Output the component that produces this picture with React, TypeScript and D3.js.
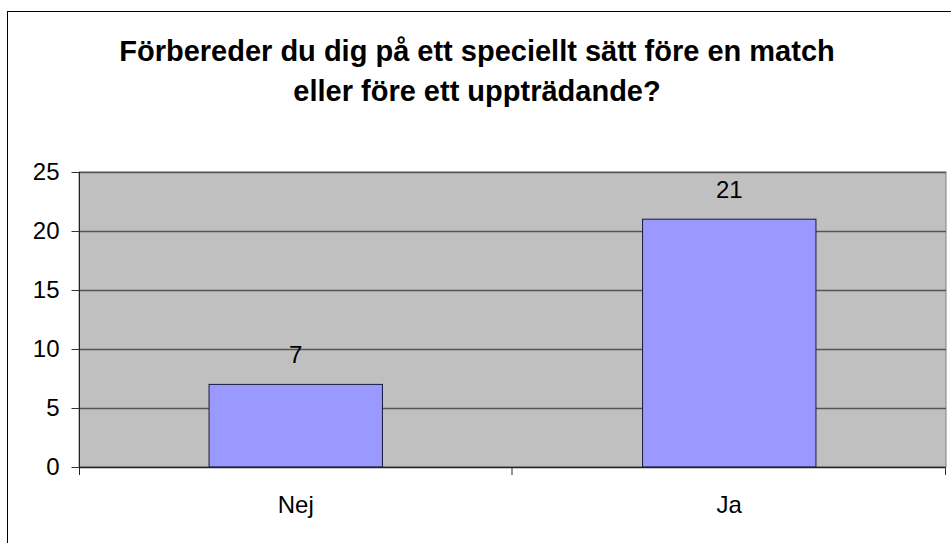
import React, { useRef, useEffect } from 'react'
import { select, scaleBand, scaleLinear, axisLeft } from 'd3'

// chart data
const categories = ['Nej', 'Ja']
const values = [7, 21]
const yTicks = [0, 5, 10, 15, 20, 25]
const titleLines = [
  'Förbereder du dig på ett speciellt sätt före en match',
  'eller före ett uppträdande?',
]

const App = () => {
  const svgRef = useRef<SVGSVGElement>(null)

  // display settings
  const width = 951
  const height = 543
  const margin = { top: 172, right: 5, bottom: 76, left: 79 }
  const font = 'Liberation Sans, Arial, sans-serif'

  const x = scaleBand()
    .domain(categories)
    .range([margin.left, width - margin.right])
  const y = scaleLinear()
    .domain([0, 25])
    .range([height - margin.bottom, margin.top])
  const barWidth = x.step() * 0.4

  useEffect(() => {
    const svg = select(svgRef.current)
    svg.selectAll('*').remove()
    svg.attr('viewBox', [0, 0, width, height])

    // outer frame
    svg.append('rect')
      .attr('x', 7.5).attr('y', 11.5)
      .attr('width', width + 20).attr('height', height + 20)
      .attr('fill', 'white')
      .attr('stroke', '#000').attr('stroke-width', 1)

    // title
    svg.append('g')
      .selectAll('text')
      .data(titleLines)
      .join('text')
      .attr('x', 477)
      .attr('y', (d, i) => 61 + i * 40)
      .attr('text-anchor', 'middle')
      .attr('font-family', font)
      .attr('font-weight', 'bold')
      .attr('font-size', 29)
      .text(d => d)

    const [x0, x1] = x.range()
    const [yb, yt] = y.range()

    // plot area
    svg.append('rect')
      .attr('x', x0).attr('y', yt)
      .attr('width', x1 - x0).attr('height', yb - yt)
      .attr('fill', '#C0C0C0')
      .attr('stroke', '#808080').attr('stroke-width', 1)

    // gridlines
    svg.append('g')
      .selectAll('line')
      .data(yTicks.filter(t => t > 0))
      .join('line')
      .attr('x1', x0).attr('x2', x1)
      .attr('y1', d => Math.round(y(d)) + 0.5)
      .attr('y2', d => Math.round(y(d)) + 0.5)
      .attr('stroke', '#555').attr('stroke-width', 1.3)

    // bars
    svg.append('g')
      .selectAll('rect')
      .data(values)
      .join('rect')
      .attr('x', (d, i) => x(categories[i])! + x.bandwidth() / 2 - barWidth / 2)
      .attr('y', d => y(d))
      .attr('width', barWidth)
      .attr('height', d => y(0) - y(d))
      .attr('fill', '#9999FF')
      .attr('stroke', '#1a1a3a').attr('stroke-width', 1)

    // value labels
    svg.append('g')
      .selectAll('text')
      .data(values)
      .join('text')
      .attr('x', (d, i) => x(categories[i])! + x.bandwidth() / 2)
      .attr('y', d => y(d) - 21)
      .attr('text-anchor', 'middle')
      .attr('font-family', font)
      .attr('font-size', 24)
      .text(d => d)

    // y axis
    const yAxis = svg.append('g')
      .attr('transform', `translate(${x0 + 0.5},0)`)
      .call(axisLeft(y).tickValues(yTicks).tickSize(8).tickPadding(12).tickSizeOuter(0))
    yAxis.select('.domain').remove()
    yAxis.selectAll('.tick line').attr('stroke', '#333')
    yAxis.selectAll('.tick text')
      .attr('font-family', font)
      .attr('font-size', 24)
      .attr('fill', '#000')
    svg.append('line')
      .attr('x1', x0 + 0.5).attr('x2', x0 + 0.5)
      .attr('y1', yt).attr('y2', yb + 8)
      .attr('stroke', '#222')

    // x axis
    svg.append('line')
      .attr('x1', x0).attr('x2', x1)
      .attr('y1', yb + 0.5).attr('y2', yb + 0.5)
      .attr('stroke', '#222').attr('stroke-width', 1.3)
    svg.append('g')
      .selectAll('line')
      .data(categories.slice(1).concat(['__end']))
      .join('line')
      .attr('x1', d => (d === '__end' ? x1 : x(d)!) - 0.5)
      .attr('x2', d => (d === '__end' ? x1 : x(d)!) - 0.5)
      .attr('y1', yb).attr('y2', yb + 8)
      .attr('stroke', '#333')
    svg.append('g')
      .selectAll('text')
      .data(categories)
      .join('text')
      .attr('x', d => x(d)! + x.bandwidth() / 2)
      .attr('y', 513)
      .attr('text-anchor', 'middle')
      .attr('font-family', font)
      .attr('font-size', 24)
      .text(d => d)
  }, [])

  return (
    <div>
      <style>{`body { margin: 0; overflow: hidden; }`}</style>
      <svg ref={svgRef} width={width} height={height} style={{ display: 'block' }}></svg>
    </div>
  )
}

export default App
